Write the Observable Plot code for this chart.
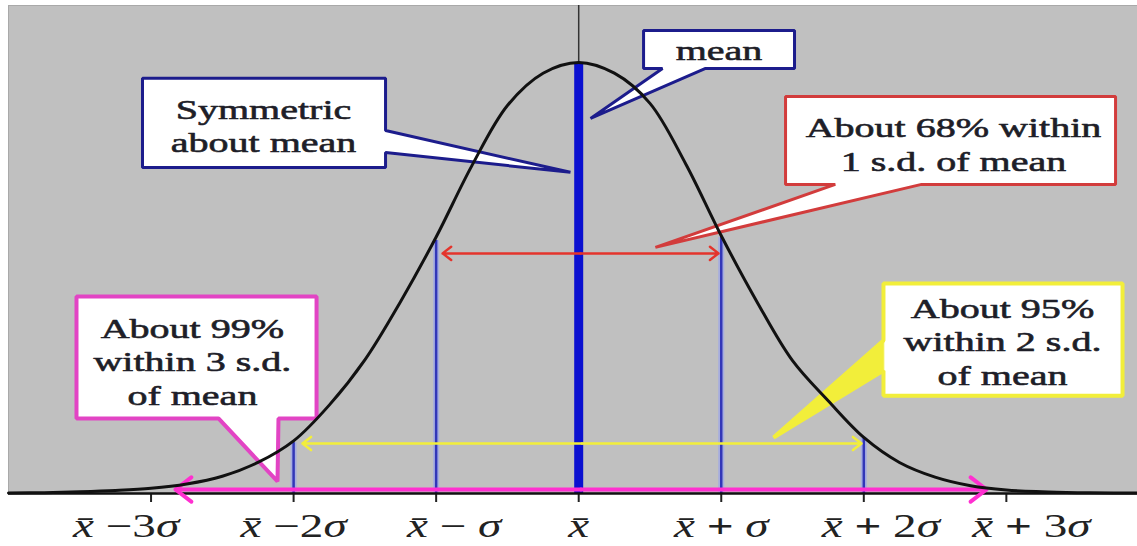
<!DOCTYPE html>
<html><head><meta charset="utf-8">
<script src="https://cdn.jsdelivr.net/npm/d3@7"></script>
<script src="https://cdn.jsdelivr.net/npm/@observablehq/plot@0.6"></script>
<style>
html,body{margin:0;padding:0;background:#fff;}
#chart svg g[aria-label^="x-axis"] line,#chart svg g[aria-label^="x-axis"] path{stroke-width:2px;stroke:#222;}
</style></head><body><div id="chart"></div>
<script>
// ---- data (x in standard deviations from the mean, y relative to peak height) ----
const curveZ = [-4.0,-3.75,-3.5,-3.25,-3.0,-2.75,-2.5,-2.25,-2.0,-1.75,-1.5,-1.25,-1.0,-0.75,-0.5,-0.25,0,
                0.25,0.5,0.75,1.0,1.25,1.5,1.75,2.0,2.25,2.5,2.75,3.0,3.25,3.5,3.75,3.92];
const curveV = [0.001,0.002,0.004,0.007,0.012,0.022,0.040,0.072,0.122,0.205,0.310,0.445,0.595,0.760,0.900,0.975,1.0,
                0.975,0.905,0.765,0.598,0.445,0.308,0.215,0.130,0.072,0.038,0.018,0.008,0.004,0.002,0.001,0.001];
const tickVals = [-3,-2,-1,0,1,2,3];
const tickLabels = ["x̄ −3σ","x̄ −2σ","x̄ − σ","x̄","x̄ + σ","x̄ + 2σ","x̄ + 3σ"];
const sdX = [-2,-1,1,2];
const sdTop = [0.118,0.587,0.594,0.130];
const meanTop = [1.0];
const spanLo = [-0.955,-1.938,-2.829];
const spanHi = [0.981,1.984,2.861];
const spanLevel = [0.557,0.116,0.0093];
const calloutText = ["mean","Symmetric\nabout mean","About 68% within\n1 s.d. of mean","About 95%\nwithin 2 s.d.\nof mean","About 99%\nwithin 3 s.d.\nof mean"];
const calloutTextX = [0.984,-2.211,2.629,2.973,-2.710];
const calloutTextY = [1.030,0.855,0.812,0.355,0.3085];
const meanCallout = [[0.455,1.074],[1.514,1.074],[1.514,0.986],[0.890,0.986],[0.083,0.870],[0.588,0.986],[0.455,0.986]];
const symCallout  = [[-3.060,0.963],[-1.355,0.963],[-1.355,0.842],[-0.058,0.745],[-1.355,0.791],[-1.355,0.756],[-3.060,0.756]];
const sd1Callout  = [[1.451,0.921],[3.766,0.921],[3.766,0.717],[2.405,0.717],[0.538,0.571],[1.800,0.717],[1.451,0.717]];
const sd2Callout  = [[2.138,0.487],[3.815,0.487],[3.815,0.227],[2.138,0.227],[2.138,0.285],[1.367,0.130],[2.138,0.355]];
const sd2Wedge    = [[2.138,0.355],[1.367,0.130],[2.138,0.285]];
const sd3Callout  = [[-3.523,0.457],[-1.839,0.457],[-1.839,0.174],[-2.106,0.174],[-2.113,0.028],[-2.527,0.174],[-3.523,0.174]];

// ---- styles ----
const C = {bg:"#c0c0c0", blue:"#0a10d0", sd:"#3236b8", sdHalo:"#a6addf", navy:"#1c1c8c",
           red:"#e4342c", redBox:"#d23c3c", yellow:"#f2ee3a", magenta:"#ff2fd0", magBox:"#e244c4", text:"#1e1e28"};
const spanColor = [C.red, C.yellow, C.magenta];
const spanWidth = [2.5, 2.5, 4];
const spanHead = [6.5, 6.5, 7.5];
const labelDx = [-25, 0, 18, 0, 0, 17, 25];
const serif = "'Liberation Serif','Times New Roman',serif";

const curve = curveZ.map((z,i)=>({z, v: curveV[i]}));
const sds = sdX.map((x,i)=>({x, top: sdTop[i]}));
const callouts = calloutText.map((t,i)=>({t, x: calloutTextX[i], y: calloutTextY[i]}));

const marks = [
  Plot.frame({fill: C.bg, stroke: "#a9a9a9"}),
  Plot.ruleX([0], {stroke: "#333", strokeWidth: 1.5}),
  Plot.ruleX(sds, {x: "x", y1: 0, y2: "top", stroke: C.sdHalo, strokeWidth: 6}),
  Plot.ruleX(sds, {x: "x", y1: 0, y2: "top", stroke: C.sd, strokeWidth: 2.5}),
  Plot.ruleX(meanTop, {x: () => 0, y1: 0, y2: d => d, stroke: C.blue, strokeWidth: 9}),
  Plot.ruleY([0], {stroke: "#111", strokeWidth: 2.5}),
];
spanLo.forEach((lo,i) => {
  const mid = (lo + spanHi[i]) / 2;
  const ends = [lo, spanHi[i]];
  marks.push(Plot.arrow(ends, {x1: () => mid, x2: d => d, y1: () => spanLevel[i], y2: () => spanLevel[i],
    stroke: spanColor[i], strokeWidth: spanWidth[i], headLength: spanHead[i], headAngle: 75}));
});
const poly = (pts, stroke, fill, sw) => Plot.line(pts, {x: d => d[0], y: d => d[1], stroke, fill, strokeWidth: sw, curve: "linear-closed", strokeLinejoin: "miter"});
marks.push(
  poly(meanCallout, C.navy, "white", 3),
  poly(symCallout, C.navy, "white", 3),
  poly(sd1Callout, C.redBox, "white", 3),
  poly(sd2Callout, C.yellow, "white", 4),
  poly(sd2Wedge, C.yellow, C.yellow, 1),
  poly(sd3Callout, C.magBox, "white", 4),
  Plot.line(curve, {x: "z", y: "v", stroke: "#111", strokeWidth: 3, curve: "catmull-rom"}),
  Plot.text(callouts, {x: "x", y: "y", text: "t", fontSize: 28, fontFamily: serif, fill: C.text, stroke: C.text, strokeWidth: 0.6, lineHeight: 1.2, lineAnchor: "middle", textAnchor: "middle"}),
  Plot.text(tickVals, {x: d => d, frameAnchor: "bottom", text: (d,i) => tickLabels[i], fontSize: 33, fontFamily: serif, fill: "#222", dy: 33, lineAnchor: "middle", textAnchor: "middle"})
);

const chart = Plot.plot({
  width: 1137, height: 546,
  marginLeft: 8, marginRight: 0, marginTop: 5, marginBottom: 53,
  style: {background: "white", color: "#222", overflow: "visible"},
  x: {domain: [-4, 3.92], ticks: tickVals, tickFormat: () => "", tickSize: 9, label: null},
  y: {domain: [0, 1.132], axis: null},
  marks
});
document.getElementById("chart").appendChild(chart);

// horizontally stretched type, italic x̄ and σ
const NS = "http://www.w3.org/2000/svg";
const S = 1.43;
let tickIdx = 0;
chart.querySelectorAll('g[aria-label="text"] text').forEach(t => {
  const s = t.textContent;
  let dx = 0;
  if (s.includes("x̄") && !t.querySelector("tspan")) {
    dx = labelDx[tickLabels.indexOf(s)] || 0;
    t.textContent = "";
    s.split(/(x̄|σ|\+)/).filter(p => p.length).forEach(p => {
      const ts = document.createElementNS(NS, "tspan");
      ts.textContent = p;
      if (p === "x̄" || p === "σ") ts.setAttribute("font-style", "italic");
      if (p === "+") ts.setAttribute("font-weight", "bold");
      t.appendChild(ts);
    });
  }
  const tr = t.getAttribute("transform");
  if (tr && /translate/.test(tr)) t.setAttribute("transform", `translate(${dx},0) ` + tr + ` scale(${S},1)`);
  else {
    const x = +t.getAttribute("x") || 0, y = +t.getAttribute("y") || 0;
    t.setAttribute("transform", `translate(${x + dx},${y}) scale(${S},1) translate(${-x},${-y})`);
  }
});
</script></body></html>
